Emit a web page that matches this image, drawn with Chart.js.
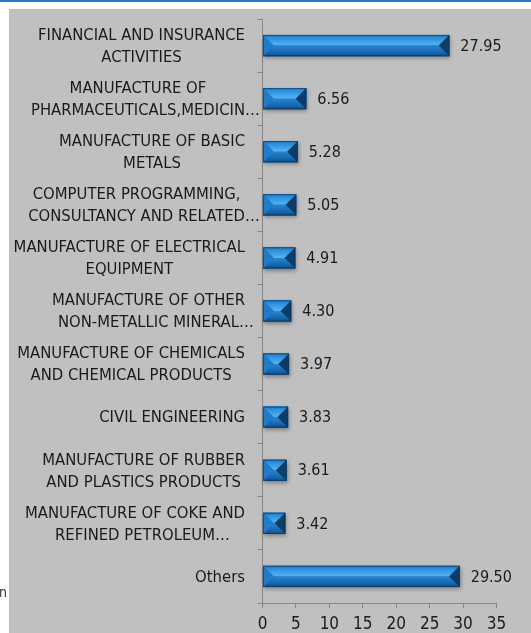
<!DOCTYPE html>
<html>
<head>
<meta charset="utf-8">
<script src="https://cdn.jsdelivr.net/npm/chart.js"></script>
<style>
  html, body { margin: 0; padding: 0; background: #fff; }
  #wrap { position: relative; width: 531px; height: 633px; }
</style>
</head>
<body>
<div id="wrap"><canvas id="chart" width="531" height="633"></canvas></div>
<script>
// 業種ごとの割合（%）
const categories = [
  ['FINANCIAL AND INSURANCE', 'ACTIVITIES'],
  ['MANUFACTURE OF', 'PHARMACEUTICALS,MEDICIN…'],
  ['MANUFACTURE OF BASIC', 'METALS'],
  ['COMPUTER PROGRAMMING,', 'CONSULTANCY AND RELATED…'],
  ['MANUFACTURE OF ELECTRICAL', 'EQUIPMENT'],
  ['MANUFACTURE OF OTHER', 'NON-METALLIC MINERAL…'],
  ['MANUFACTURE OF CHEMICALS', 'AND CHEMICAL PRODUCTS'],
  ['CIVIL ENGINEERING'],
  ['MANUFACTURE OF RUBBER', 'AND PLASTICS PRODUCTS'],
  ['MANUFACTURE OF COKE AND', 'REFINED PETROLEUM…'],
  ['Others']
];
const shares = [27.95, 6.56, 5.28, 5.05, 4.91, 4.30, 3.97, 3.83, 3.61, 3.42, 29.50];
const xTickValues = [0, 5, 10, 15, 20, 25, 30, 35];

const FONT = '"DejaVu Sans Condensed", "Liberation Sans Narrow", "Open Sans", sans-serif';
const TEXT_COLOR = '#1a1a1a';
const AXIS_COLOR = '#868686';

// 背景（灰色の枠と上端の青い線）
const backdrop = {
  id: 'backdrop',
  beforeDraw(chart) {
    const ctx = chart.ctx;
    ctx.save();
    ctx.fillStyle = '#ffffff';
    ctx.fillRect(0, 0, chart.width, chart.height);
    ctx.fillStyle = '#c0c0c0';
    ctx.fillRect(9, 9, chart.width - 9, chart.height - 9);
    ctx.fillStyle = '#2479cf';
    ctx.fillRect(0, 0, chart.width, 2);
    // 左側に切れて見える文字
    ctx.fillStyle = '#333';
    ctx.font = '14px ' + FONT;
    ctx.textBaseline = 'alphabetic';
    ctx.fillText('n', -1, 597);
    ctx.restore();
  }
};

// 立体的なベベル付きの棒を描く
const bevelBars = {
  id: 'bevelBars',
  afterDatasetsDraw(chart) {
    const ctx = chart.ctx;
    const meta = chart.getDatasetMeta(0);
    meta.data.forEach((bar) => {
      const p = bar.getProps(['x', 'y', 'base', 'height'], true);
      const x0 = p.base, x1 = p.x;
      const t = p.y - p.height / 2, b = p.y + p.height / 2, m = p.y;
      const d = Math.min(p.height / 2, (x1 - x0) / 2);

      ctx.save();
      // 影
      ctx.shadowColor = 'rgba(0,0,0,0.35)';
      ctx.shadowBlur = 4;
      ctx.shadowOffsetX = 1;
      ctx.shadowOffsetY = 2;
      ctx.fillStyle = '#1a6fb6';
      ctx.fillRect(x0, t, x1 - x0, b - t);
      ctx.restore();

      ctx.save();
      // 上面
      let g = ctx.createLinearGradient(0, t, 0, m);
      g.addColorStop(0, '#1c74bd');
      g.addColorStop(0.25, '#2c8edb');
      g.addColorStop(1, '#55b4f2');
      ctx.fillStyle = g;
      ctx.beginPath();
      ctx.moveTo(x0, t); ctx.lineTo(x1, t); ctx.lineTo(x1 - d, m); ctx.lineTo(x0 + d, m);
      ctx.closePath(); ctx.fill();
      // 下面
      g = ctx.createLinearGradient(0, m, 0, b);
      g.addColorStop(0, '#2786d3');
      g.addColorStop(0.7, '#1664a8');
      g.addColorStop(1, '#0d4a80');
      ctx.fillStyle = g;
      ctx.beginPath();
      ctx.moveTo(x0 + d, m); ctx.lineTo(x1 - d, m); ctx.lineTo(x1, b); ctx.lineTo(x0, b);
      ctx.closePath(); ctx.fill();
      // 左端
      ctx.fillStyle = '#1f7ccb';
      ctx.beginPath();
      ctx.moveTo(x0, t); ctx.lineTo(x0 + d, m); ctx.lineTo(x0, b);
      ctx.closePath(); ctx.fill();
      // 右端
      ctx.fillStyle = '#0c3d69';
      ctx.beginPath();
      ctx.moveTo(x1, t); ctx.lineTo(x1 - d, m); ctx.lineTo(x1, b);
      ctx.closePath(); ctx.fill();
      // 縁
      ctx.strokeStyle = 'rgba(10,50,90,0.6)';
      ctx.lineWidth = 1;
      ctx.strokeRect(x0 + 0.5, t + 0.5, x1 - x0 - 1, b - t - 1);
      ctx.restore();
    });
  }
};

// 棒の右側の数値ラベル
const valueLabels = {
  id: 'valueLabels',
  afterDatasetsDraw(chart) {
    const ctx = chart.ctx;
    const meta = chart.getDatasetMeta(0);
    ctx.save();
    ctx.font = '16px ' + FONT;
    ctx.fillStyle = TEXT_COLOR;
    ctx.textAlign = 'left';
    ctx.textBaseline = 'middle';
    meta.data.forEach((bar, i) => {
      const p = bar.getProps(['x', 'y'], true);
      ctx.fillText(shares[i].toFixed(2), p.x + 11, p.y + 1);
    });
    ctx.restore();
  }
};

// 縦軸の項目名（各行は中央揃え、まとまりは右揃え）
const categoryLabels = {
  id: 'categoryLabels',
  afterDraw(chart) {
    const ctx = chart.ctx;
    const yScale = chart.scales.y;
    const right = 245;
    const lineHeight = 22;
    ctx.save();
    ctx.font = '16.5px ' + FONT;
    ctx.fillStyle = TEXT_COLOR;
    ctx.textAlign = 'left';
    ctx.textBaseline = 'middle';
    categories.forEach((lines, i) => {
      const cy = yScale.getPixelForValue(i);
      const widths = lines.map(s => ctx.measureText(s.replace(/…$/, '')).width);
      const blockW = Math.max(...widths);
      const cx = right - blockW / 2;
      lines.forEach((s, j) => {
        const y = cy + (j - (lines.length - 1) / 2) * lineHeight;
        ctx.fillText(s, cx - widths[j] / 2, y + 1);
      });
    });
    ctx.restore();
  }
};

new Chart(document.getElementById('chart'), {
  type: 'bar',
  data: {
    labels: categories,
    datasets: [{
      data: shares,
      backgroundColor: '#1f7fcc',
      borderWidth: 0,
      barPercentage: 0.4,
      categoryPercentage: 1
    }]
  },
  options: {
    indexAxis: 'y',
    responsive: false,
    animation: false,
    events: [],
    layout: { padding: { top: 19, right: 34.5, bottom: 0, left: 0 } },
    plugins: { legend: { display: false }, tooltip: { enabled: false } },
    scales: {
      x: {
        min: xTickValues[0],
        max: xTickValues[xTickValues.length - 1],
        afterBuildTicks: (scale) => { scale.ticks = xTickValues.map(v => ({ value: v })); },
        afterFit: (scale) => { scale.height = 30; },
        grid: { drawOnChartArea: false, drawTicks: true, tickLength: 5, color: AXIS_COLOR },
        border: { color: AXIS_COLOR, width: 1 },
        ticks: { color: TEXT_COLOR, font: { family: FONT, size: 17 }, padding: 6, maxRotation: 0 }
      },
      y: {
        afterFit: (scale) => { scale.width = 262.5; },
        grid: { drawOnChartArea: false, drawTicks: true, tickLength: 5, color: AXIS_COLOR, offset: true },
        border: { color: AXIS_COLOR, width: 1 },
        ticks: { display: false }
      }
    }
  },
  plugins: [backdrop, bevelBars, valueLabels, categoryLabels]
});
</script>
</body>
</html>
